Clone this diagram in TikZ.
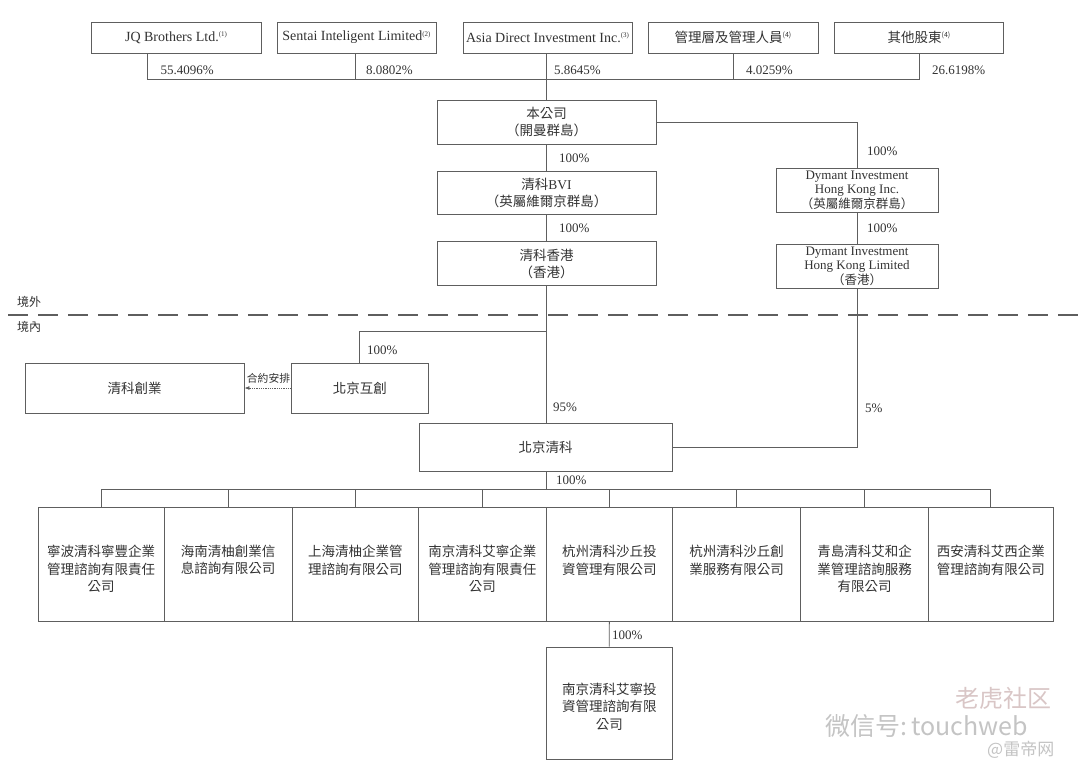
\documentclass[tikz,border=0pt]{standalone}
\usepackage{fontspec}
\setmainfont{Liberation Serif}
\newfontfamily\cj{Noto Sans CJK TC}
\newfontfamily\wmfont{Noto Sans CJK SC}
\usetikzlibrary{arrows.meta}
\definecolor{ln}{HTML}{5E5E5E}
\definecolor{tx}{HTML}{333333}
\definecolor{wm}{HTML}{C4C4C4}
\definecolor{wmr}{HTML}{D9C6C6}
\newcommand\fnm[1]{\raisebox{4.8pt}{\fontsize{7}{7}\selectfont(#1)}}
\begin{document}
\begin{tikzpicture}[x=1pt,y=-1pt,
  box/.style={draw=ln,line width=0.9pt,inner sep=0pt,anchor=center,text=tx,align=center},
  lat/.style={font=\fontsize{13}{14.6}\selectfont},
  tlat/.style={font=\fontsize{14}{15}\selectfont},
  cjk/.style={font=\cj\fontsize{13.5}{17}\selectfont},
  lnk/.style={draw=ln,line width=0.9pt},
  pct/.style={text=tx,font=\fontsize{13}{15}\selectfont,anchor=west,inner sep=0pt},
  subtxt/.style={text=tx,inner sep=0pt,align=center,anchor=north,font=\cj\fontsize{13.5}{17.3}\selectfont},
  area/.style={text=tx,inner sep=0pt,anchor=west,font=\cj\fontsize{12}{14}\selectfont},
  dline/.style={draw=ln,line width=1.2pt,dash pattern=on 20pt off 10pt,dash phase=-8pt},
  dotarrow/.style={draw=ln,line width=0.8pt,densely dotted,-{Latex[length=5pt,width=4pt]}},
  wmtext/.style={inner sep=0pt,text=wm},
]
\useasboundingbox[fill=white] (0,0) rectangle (1080,771);

% ---------- shareholders ----------
\node[box,tlat,minimum width=170,minimum height=31] (jq) at (176,37.5) {JQ Brothers Ltd.\fnm{1}};
\node[box,tlat,minimum width=159,minimum height=31] (sentai) at (356.5,37.5) {Sentai Inteligent Limited\fnm{2}};
\node[box,tlat,minimum width=169,minimum height=31] (asia) at (547.5,37.5) {Asia Direct Investment Inc.\fnm{3}};
\node[box,cjk,minimum width=170,minimum height=31] (mgmt) at (733,37.5) {管理層及管理人員\fnm{4}};
\node[box,cjk,minimum width=169,minimum height=31] (other) at (919,37.5) {其他股東\fnm{4}};

\coordinate (busL) at (147,79);
\coordinate (busS) at (355,79);
\coordinate (busM) at (733.5,79);
\coordinate (busR) at (919,79);

% ---------- company chain ----------
\node[box,cjk,minimum width=219,minimum height=44] (company) at (546.5,122) {本公司\\（開曼群島）};
\node[box,cjk,minimum width=219,minimum height=43] (bvi) at (546.5,192.5) {清科{\fontspec{Liberation Serif}BVI}\\（英屬維爾京群島）};
\node[box,cjk,minimum width=219,minimum height=44] (hk) at (546.5,263.7) {清科香港\\（香港）};

\node[box,lat,minimum width=162,minimum height=44] (dyinc) at (857,190) {Dymant Investment\\Hong Kong Inc.\\{\cj\fontsize{12.5}{14}\selectfont（英屬維爾京群島）}};
\node[box,lat,minimum width=162,minimum height=44] (dyltd) at (857,266) {Dymant Investment\\Hong Kong Limited\\{\cj\fontsize{12.5}{14}\selectfont（香港）}};

\draw[lnk] (jq.south -| busL) -- (busL) -- (busR) -- (other.south);
\draw[lnk] (sentai.south -| busS) -- (busS);
\draw[lnk] (mgmt.south -| busM) -- (busM);
\draw[lnk] (asia.south -| company.north) -- (company.north);
\draw[lnk] (company.south) -- (bvi.north);
\draw[lnk] (bvi.south) -- (hk.north);
\draw[lnk] (company.east) -- (company.east -| dyinc.north) -- (dyinc.north);
\draw[lnk] (dyinc.south) -- (dyltd.north);

\node[pct] (p1) at (160.5,70.5) {55.4096\%};
\node[pct] (p2) at (366,70.5) {8.0802\%};
\node[pct] (p3) at (554,70.5) {5.8645\%};
\node[pct] (p4) at (746,70.5) {4.0259\%};
\node[pct] (p5) at (932,70.5) {26.6198\%};
\node[pct] (p6) at (559,158) {100\%};
\node[pct] (p7) at (559,228) {100\%};
\node[pct] (p8) at (867,151) {100\%};
\node[pct] (p9) at (867,228) {100\%};

% ---------- border line ----------
\coordinate (dl) at (0,315);
\coordinate (dr) at (1080,315);
\draw[dline] (dl) -- (dr);
\node[area] (out) at (17,302) {境外};
\node[area] (in) at (17,327) {境內};

% ---------- onshore ----------
\node[box,cjk,minimum width=219,minimum height=50] (qkcy) at (134.5,388) {清科創業};
\node[box,cjk,minimum width=137.5,minimum height=50] (huc) at (359.75,388) {北京互創};
\node[box,cjk,minimum width=253,minimum height=48] (bjqk) at (545.5,447) {北京清科};

\coordinate (br) at (546.5,331);
\draw[lnk] (hk.south) -- (hk.south |- bjqk.north);
\draw[lnk] (br) -| (huc.north);
\draw[dotarrow] (huc.west) -- (qkcy.east);
\node[text=tx,inner sep=0pt,font=\cj\fontsize{10.8}{12}\selectfont] (contract) at (268.5,378) {合約安排};
\draw[lnk] (dyltd.south) |- (bjqk.east);

\node[pct] (p10) at (367,350) {100\%};
\node[pct] (p11) at (553,407) {95\%};
\node[pct] (p12) at (865,408) {5\%};
\node[pct] (p13) at (556,480) {100\%};

% ---------- subsidiaries ----------
\node[box,minimum width=126,minimum height=114] (s1) at (101,564) {};
\node[box,minimum width=128,minimum height=114] (s2) at (228,564) {};
\node[box,minimum width=126.5,minimum height=114] (s3) at (355.25,564) {};
\node[box,minimum width=127.5,minimum height=114] (s4) at (482.25,564) {};
\node[box,minimum width=126.6,minimum height=114] (s5) at (609.3,564) {};
\node[box,minimum width=128.1,minimum height=114] (s6) at (736.65,564) {};
\node[box,minimum width=127.8,minimum height=114] (s7) at (864.6,564) {};
\node[box,minimum width=124.5,minimum height=114] (s8) at (990.75,564) {};

\node[subtxt] (t1) at ([yshift=-38.5pt]s1.north) {寧波清科寧豐企業\\管理諮詢有限責任\\公司};
\node[subtxt] (t2) at ([yshift=-38.5pt]s2.north) {海南清柚創業信\\息諮詢有限公司};
\node[subtxt] (t3) at ([yshift=-38.5pt]s3.north) {上海清柚企業管\\理諮詢有限公司};
\node[subtxt] (t4) at ([yshift=-38.5pt]s4.north) {南京清科艾寧企業\\管理諮詢有限責任\\公司};
\node[subtxt] (t5) at ([yshift=-38.5pt]s5.north) {杭州清科沙丘投\\資管理有限公司};
\node[subtxt] (t6) at ([yshift=-38.5pt]s6.north) {杭州清科沙丘創\\業服務有限公司};
\node[subtxt] (t7) at ([yshift=-38.5pt]s7.north) {青島清科艾和企\\業管理諮詢服務\\有限公司};
\node[subtxt] (t8) at ([yshift=-38.5pt]s8.north) {西安清科艾西企業\\管理諮詢有限公司};

\coordinate (sb) at (546.5,489);
\draw[lnk] (bjqk.south -| sb) -- (sb);
\draw[lnk] (s1.north |- sb) -- (s8.north |- sb);
\foreach \i in {1,...,8} {\draw[lnk] (s\i.north) -- (s\i.north |- sb);}

\node[box,minimum width=125.5,minimum height=112] (nj) at (609.25,703) {};
\node[subtxt,anchor=center] (tnj) at (609.25,706.5) {南京清科艾寧投\\資管理諮詢有限\\公司};
\draw[lnk] (s5.south) -- (nj.north);
\node[pct] (p14) at (612,635) {100\%};

% ---------- watermark ----------
\node[wmtext,text=wmr,anchor=west,font=\wmfont\fontsize{24}{24}\selectfont] (wm2) at (955,698) {老虎社区};
\node[wmtext,anchor=west,font=\wmfont\fontsize{25}{25}\selectfont] (wm1) at (825,726) {微信号:\,touchweb};
\node[wmtext,anchor=west,font=\wmfont\fontsize{17}{17}\selectfont] (wm3) at (987,750) {@雷帝网};
\end{tikzpicture}
\end{document}
